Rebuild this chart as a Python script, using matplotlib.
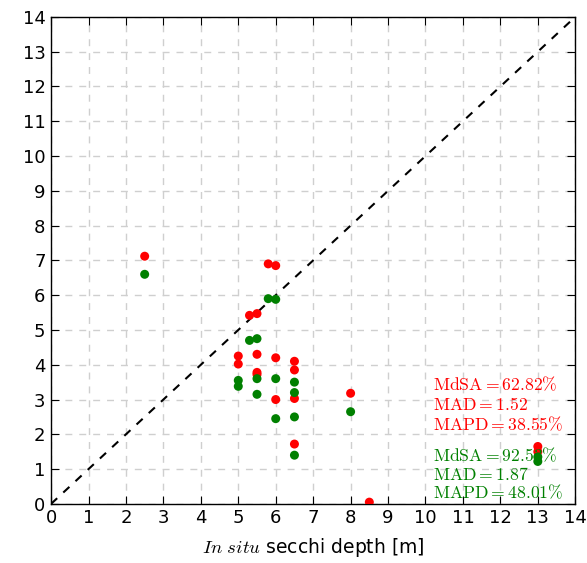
import matplotlib
matplotlib.use("Agg")
import matplotlib.pyplot as plt
import numpy as np

plt.rcParams['mathtext.fontset'] = 'cm'
plt.rcParams['font.family'] = 'DejaVu Sans'

# in situ secchi depth [m] and two retrieved estimates
insitu_red = [2.5, 5.8, 6.0, 5.3, 5.5, 5.0, 5.0, 5.5, 6.0, 6.5, 6.5, 5.5, 5.5, 6.0, 6.5, 6.5, 8.0, 8.5, 13.0, 13.0]
est_red = [7.12, 6.9, 6.85, 5.42, 5.47, 4.25, 4.02, 4.3, 4.2, 4.1, 3.85, 3.78, 3.72, 3.0, 3.03, 1.72, 3.18, 0.05, 1.65, 1.5]

insitu_green = [2.5, 5.8, 6.0, 5.3, 5.5, 5.0, 5.0, 5.5, 5.5, 6.0, 6.0, 6.5, 6.5, 6.5, 6.5, 8.0, 13.0, 13.0]
est_green = [6.6, 5.9, 5.88, 4.7, 4.75, 3.55, 3.38, 3.6, 3.15, 3.6, 2.45, 3.5, 3.2, 2.5, 1.4, 2.65, 1.35, 1.22]

stats_red = ['MdSA = 62.82\\%', 'MAD = 1.52', 'MAPD = 38.55\\%']
stats_green = ['MdSA = 92.53\\%', 'MAD = 1.87', 'MAPD = 48.01\\%']
ticks = np.arange(0, 15)

fig = plt.figure(figsize=(5.87, 5.63), dpi=100)
ax = fig.add_axes([0.087, 0.105, 0.893, 0.865])

ax.plot([0, 14], [0, 14], color='k', linestyle=(0, (4, 4)), lw=1.5, zorder=2)
ax.scatter(insitu_red, est_red, s=42, c='r', edgecolors='none', zorder=3)
ax.scatter(insitu_green, est_green, s=42, c='g', edgecolors='none', zorder=3)

ax.set_xlim(0, 14)
ax.set_ylim(0, 14)
ax.set_xticks(ticks)
ax.set_yticks(ticks)
ax.tick_params(direction='in', top=True, right=True, labelsize=13, length=6, pad=4)
ax.grid(True, color='#cfcfcf', linestyle=(0, (5, 5)), lw=1)
ax.set_axisbelow(True)
for s in ax.spines.values():
    s.set_linewidth(1)

ax.set_xlabel(r'$\mathit{In\ situ}$ secchi depth [m]', fontsize=13.5, labelpad=6)

for i, t in enumerate(stats_red):
    ax.text(10.2, 3.42 - 0.57 * i, r'$\mathrm{' + t.replace(' ', '') + '}$',
            color='r', fontsize=12.7, va='center', ha='left')
for i, t in enumerate(stats_green):
    ax.text(10.2, 1.38 - 0.54 * i, r'$\mathrm{' + t.replace(' ', '') + '}$',
            color='g', fontsize=12.7, va='center', ha='left')

fig.savefig('out.png', dpi=100)
